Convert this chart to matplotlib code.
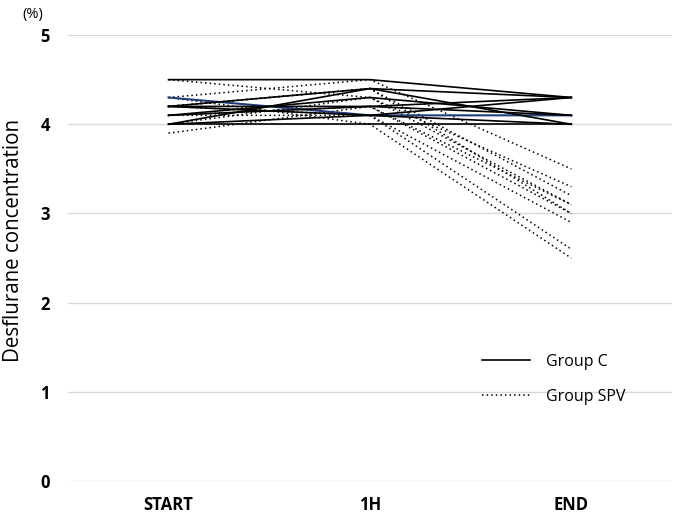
import matplotlib.pyplot as plt

plt.rcParams['font.family'] = ['Open Sans', 'DejaVu Sans']

times = ['START', '1H', 'END']

# Group C (solid), one list per patient: START, 1H, END
group_c = [
    [4.5, 4.5, 4.3],
    [4.0, 4.4, 4.3],
    [4.2, 4.4, 4.0],
    [4.1, 4.2, 4.3],
    [4.2, 4.2, 4.1],
    [4.0, 4.0, 4.0],
    [4.1, 4.3, 4.1],
    [4.2, 4.1, 4.3],
    [4.0, 4.1, 4.0],
]
group_c_blue = [4.3, 4.1, 4.1]

# Group SPV (dotted)
group_spv = [
    [4.5, 4.3, 3.3],
    [3.9, 4.2, 3.0],
    [4.3, 4.5, 3.5],
    [4.2, 4.4, 3.2],
    [4.1, 4.2, 3.1],
    [4.2, 4.1, 2.6],
    [4.3, 4.0, 2.5],
    [4.0, 4.3, 3.1],
    [4.1, 4.1, 2.9],
    [4.2, 4.4, 3.0],
]

fig = plt.figure(figsize=(6.85, 5.23), dpi=100)
ax = fig.add_axes([0.099, 0.080, 0.882, 0.853])

x = range(len(times))
for i, v in enumerate(group_spv):
    ax.plot(x, v, color='black', lw=1.1, ls=(0, (1, 2)),
            label='Group SPV' if i == 0 else None, zorder=3)
ax.plot(x, group_c_blue, color='#1f3c78', lw=1.5, zorder=3)
for i, v in enumerate(group_c):
    ax.plot(x, v, color='black', lw=1.2,
            label='Group C' if i == 0 else None, zorder=3)

ax.set_xlim(-0.5, 2.5)
ax.set_ylim(0, 5)
ax.set_yticks([0, 1, 2, 3, 4, 5])
ax.set_xticks(list(x))
ax.set_xticklabels(times)
ax.grid(axis='y', color='#d9d9d9', lw=1)
ax.set_axisbelow(True)
for s in ax.spines.values():
    s.set_visible(False)
ax.tick_params(length=0)
ax.tick_params(axis='y', pad=13, labelsize=12)
ax.tick_params(axis='x', pad=11, labelsize=12)
for t in ax.get_xticklabels() + ax.get_yticklabels():
    t.set_fontweight('bold')

fig.text(0.019, 0.540, 'Desflurane concentration', fontsize=14.8,
         rotation=90, ha='center', va='center')
fig.text(0.048, 0.972, '(%)', fontsize=10.5, ha='center', va='center')

h, l = ax.get_legend_handles_labels()
ax.legend(h[::-1], l[::-1], loc='upper left', bbox_to_anchor=(0.685, 0.286),
          frameon=False, fontsize=11.5, handlelength=3.0, handletextpad=1.0,
          labelspacing=1.2, borderpad=0, borderaxespad=0)

fig.savefig('out.png', dpi=100)
